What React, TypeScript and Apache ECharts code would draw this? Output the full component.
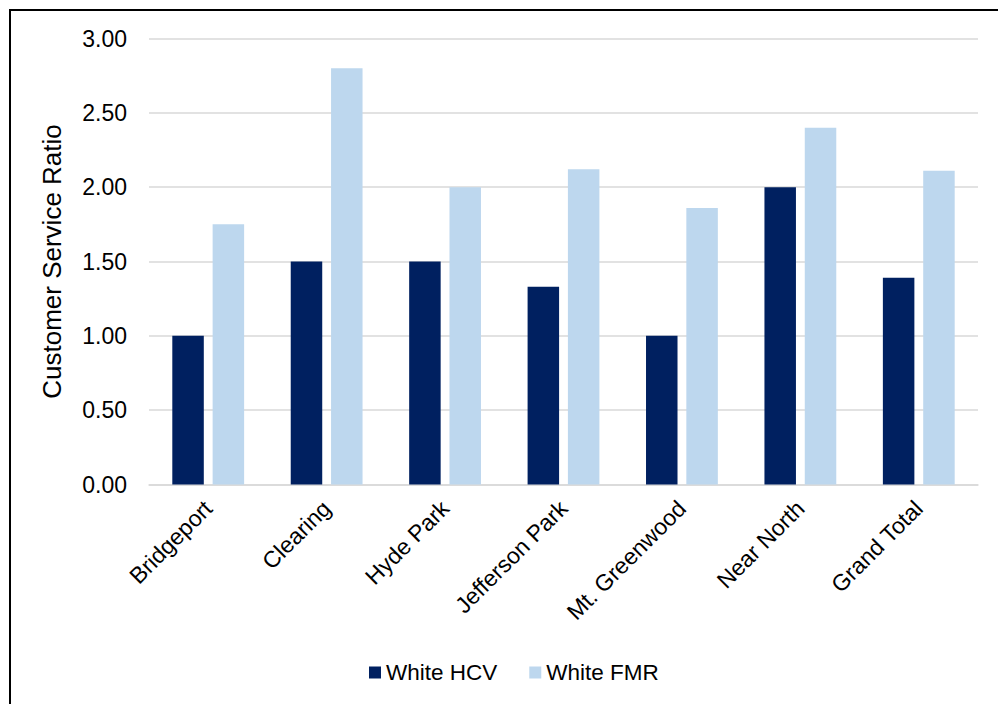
import React, { useEffect, useRef } from "react";
import * as echarts from "echarts";

const categories = [
  "Bridgeport",
  "Clearing",
  "Hyde Park",
  "Jefferson Park",
  "Mt. Greenwood",
  "Near North",
  "Grand Total",
];
const whiteHCV = [1.0, 1.5, 1.5, 1.33, 1.0, 2.0, 1.39];
const whiteFMR = [1.75, 2.8, 2.0, 2.12, 1.86, 2.4, 2.11];
const yTicks = { min: 0, max: 3, interval: 0.5 };

const FONT = "'Liberation Sans', Arial, sans-serif";

export default function App() {
  const ref = useRef<HTMLDivElement>(null);

  useEffect(() => {
    if (!ref.current) return;
    const chart = echarts.init(ref.current, null, { renderer: "svg" });
    chart.setOption({
      animation: false,
      backgroundColor: "#ffffff",
      textStyle: { fontFamily: FONT },
      grid: { left: 149, right: 20, top: 38.5, bottom: 219.5, containLabel: false },
      legend: {
        left: 364,
        top: 656,
        icon: "rect",
        itemWidth: 12,
        itemHeight: 12,
        itemGap: 32,
        textStyle: { fontSize: 22.5, color: "#000", fontFamily: FONT },
        data: ["White HCV", "White FMR"],
      },
      xAxis: {
        type: "category",
        data: categories,
        axisLine: { lineStyle: { color: "#D9D9D9", width: 1.5 } },
        axisTick: { show: false },
        axisLabel: {
          rotate: 45,
          fontSize: 23,
          color: "#000",
          fontFamily: FONT,
          margin: 20,
          interval: 0,
        },
      },
      yAxis: {
        type: "value",
        min: yTicks.min,
        max: yTicks.max,
        interval: yTicks.interval,
        name: "Customer Service Ratio",
        nameLocation: "middle",
        nameGap: 84,
        nameTextStyle: { fontSize: 26, color: "#000", fontFamily: FONT },
        axisLine: { show: false },
        axisTick: { show: false },
        axisLabel: {
          fontSize: 23,
          color: "#000",
          fontFamily: FONT,
          margin: 22,
          formatter: (v: number) => v.toFixed(2),
        },
        splitLine: { lineStyle: { color: "#D9D9D9", width: 1.5 } },
      },
      series: [
        {
          name: "White HCV",
          type: "bar",
          data: whiteHCV,
          barWidth: 31.5,
          barGap: "28%",
          itemStyle: { color: "#002060" },
        },
        {
          name: "White FMR",
          type: "bar",
          data: whiteFMR,
          barWidth: 31.5,
          itemStyle: { color: "#BDD7EE" },
        },
      ],
      graphic: [
        {
          type: "line",
          shape: { x1: 10, y1: 10, x2: 998, y2: 10 },
          style: { stroke: "#000", lineWidth: 2 },
        },
        {
          type: "line",
          shape: { x1: 10, y1: 9, x2: 10, y2: 704 },
          style: { stroke: "#000", lineWidth: 2 },
        },
      ],
    });
    return () => chart.dispose();
  }, []);

  return (
    <div
      ref={ref}
      style={{ position: "absolute", left: 0, top: 0, width: 998, height: 704 }}
    />
  );
}
